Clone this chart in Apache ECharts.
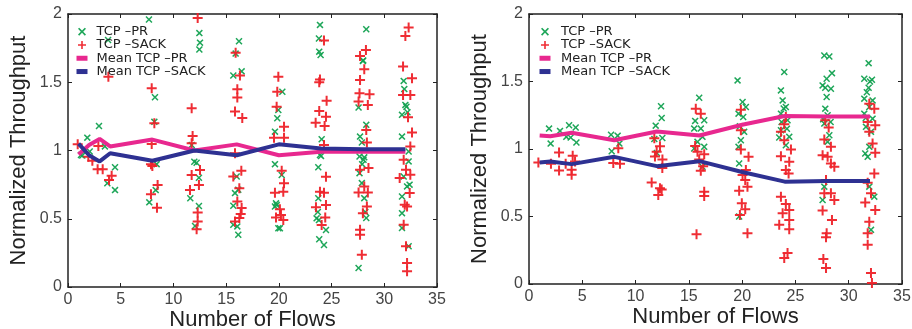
<!DOCTYPE html>
<html><head><meta charset="utf-8">
<script src="https://cdn.jsdelivr.net/npm/echarts@6/dist/echarts.min.js"></script>
<style>html,body{margin:0;padding:0;background:#fff}#c{width:912px;height:329px}</style>
</head><body><div id="c"></div>
<script>
// ---------- data ----------
const seriesNames = ['TCP –PR', 'TCP –SACK', 'Mean TCP –PR', 'Mean TCP –SACK'];
const xAxisTitle = 'Number of Flows';
const yAxisTitle = 'Normalized Throughput';

const leftMeanX = [1, 2, 3, 4, 8, 12, 16, 20, 24, 28, 32];
const leftMeanPR = [0.97, 1.04, 1.085, 1.03, 1.08, 1.0, 1.045, 0.965, 0.99, 0.99, 0.99];
const leftMeanSACK = [1.05, 0.965, 0.92, 0.98, 0.925, 1.0, 0.965, 1.045, 1.015, 1.01, 1.01];

const rightMeanX = [1, 2, 4, 8, 12, 16, 20, 24, 28, 32];
const rightMeanPR = [1.10, 1.095, 1.12, 1.065, 1.13, 1.10, 1.18, 1.245, 1.24, 1.24];
const rightMeanSACK = [0.90, 0.908, 0.888, 0.942, 0.873, 0.91, 0.83, 0.758, 0.763, 0.763];

const leftPR = [[1.36,0.963],[2.06,0.993],[1.83,1.094],[2.94,1.18],[3.5,1.03],[1.23,0.967],[3.73,0.76],[4.46,0.71],[4.46,0.877],[3.8,1.81],
[7.68,1.96],[8.25,1.39],[8.19,1.21],[8.41,0.90],[8.32,0.71],[7.71,0.62],
[12.46,1.86],[12.52,1.79],[12.46,1.74],[11.73,1.04],[11.98,0.918],[12.2,0.91],[12.42,0.80],[11.6,0.65],[12.42,0.593],[12.05,0.447],
[16.22,1.80],[15.9,1.71],[15.68,1.55],[16.47,1.58],[16.0,0.81],[16.15,0.712],[15.84,0.688],[15.68,0.595],[15.68,0.456],[16.06,0.444],[16.15,0.383],
[20.33,1.43],[19.95,1.297],[19.85,1.236],[19.63,1.138],[19.63,0.90],[20.27,0.82],[19.73,0.613],[19.63,0.59],[19.95,0.43],[20.1,0.43],[19.8,0.6],
[23.9,1.92],[23.8,1.82],[23.83,1.724],[23.96,1.70],[24.06,1.082],[23.9,0.967],[23.74,0.877],[23.74,0.65],[23.58,0.503],[23.8,0.49],[24.47,0.418],[23.83,0.35],[24.28,0.308],[24.0,0.96],[23.7,0.55],
[28.29,1.888],[27.97,1.656],[27.56,1.315],[28.29,1.188],[27.7,1.102],[27.87,1.059],[27.65,0.956],[28.03,0.932],[27.65,0.834],[27.87,0.761],[28.1,0.651],[28.29,0.505],[27.56,0.139],[28.1,0.95],[27.9,0.9],[28.2,0.55],[28.0,1.66],
[31.84,1.51],[32.0,1.334],[31.68,1.261],[31.68,1.102],[32.31,0.993],[32.31,0.92],[31.84,0.81],[32.16,0.737],[31.68,0.663],[31.68,0.541],[31.68,0.432],[32.31,0.298],[32.1,1.32],[31.9,1.45],[32.2,1.28],[32.4,0.75]];

const leftSACK = [[0.92,1.045],[1.93,0.955],[2.88,1.033],[2.81,0.862],[3.29,0.862],[3.89,0.784],[4.14,0.815],[3.83,1.54],[2.31,0.925],
[7.94,1.456],[8.19,1.20],[7.94,1.048],[7.87,0.90],[8.0,0.886],[8.5,0.747],[7.87,0.68],[8.44,0.58],
[12.3,1.97],[11.73,1.31],[11.82,1.106],[11.73,1.053],[12.52,0.857],[11.73,0.82],[12.42,0.747],[11.57,0.71],[12.3,0.545],[12.3,0.48],[12.2,0.423],
[15.9,1.717],[16.31,1.549],[16.06,1.449],[16.06,1.388],[15.84,1.285],[16.53,1.239],[15.84,0.98],[16.44,0.851],[15.68,0.81],[16.25,0.724],[16.06,0.627],[16.47,0.578],[16.38,0.534],[16.25,0.505],[15.84,0.48],
[19.95,1.54],[19.85,1.43],[19.79,1.32],[20.49,1.174],[19.54,1.094],[20.49,1.094],[20.27,0.852],[20.49,0.76],[20.42,0.698],[19.63,0.69],[20.1,0.569],[19.73,0.51],[20.42,0.49],[20.2,0.527],
[24.28,1.805],[23.9,1.52],[23.83,1.50],[24.53,1.365],[23.83,1.29],[24.47,1.248],[23.49,1.204],[24.34,1.18],[24.28,1.04],[24.47,0.808],[23.9,0.698],[24.28,0.69],[24.47,0.60],[23.52,0.584],[24.4,0.51],[24.06,0.454],
[28.26,1.737],[27.7,1.693],[28.1,1.595],[27.7,1.517],[28.6,1.412],[27.65,1.42],[27.56,1.359],[28.44,1.334],[28.29,1.151],[28.35,1.059],[27.7,0.859],[28.5,0.871],[28.1,0.737],[27.56,0.693],[28.44,0.693],[28.35,0.59],[27.97,0.541],[27.7,0.42],[27.7,0.383],[27.87,0.237],
[32.31,1.902],[32.0,1.839],[31.78,1.615],[32.63,1.529],[31.78,1.407],[32.47,1.407],[32.25,1.244],[32.63,1.132],[32.47,1.029],[31.84,0.932],[32.06,0.859],[32.47,0.822],[31.46,0.798],[32.41,0.688],[31.94,0.602],[32.16,0.59],[31.84,0.456],[32.06,0.298],[32.16,0.176],[32.16,0.115]];

const rightPR = [[1.88,1.151],[2.03,1.04],[2.91,1.134],[3.76,1.176],[3.91,1.085],[4.38,1.159],[4.45,1.048],[3.5,1.09],
[7.7,1.106],[8.32,1.099],[8.48,1.04],[7.76,0.983],
[12.39,1.317],[12.45,1.23],[11.89,1.173],[11.76,1.074],[12.51,1.082],[12.0,0.97],
[15.97,1.38],[15.59,1.208],[16.44,1.213],[15.5,1.151],[16.12,1.151],[16.28,1.09],[15.81,1.053],[15.5,1.004],[16.44,1.016],[16.28,0.868],
[19.57,1.508],[20.04,1.348],[20.35,1.311],[19.66,1.262],[20.1,1.237],[19.79,1.168],[20.19,1.127],[19.88,1.065],[19.66,1.016],[19.72,0.893],[19.72,0.50],
[23.95,1.57],[23.64,1.434],[23.8,1.36],[24.1,1.311],[23.64,1.262],[24.26,1.213],[23.64,1.139],[23.48,1.085],[24.42,1.09],[24.1,1.028],[23.7,1.2],[24.2,1.15],[23.9,1.3],
[27.71,1.693],[28.18,1.685],[28.43,1.562],[27.93,1.52],[27.55,1.471],[27.8,1.454],[28.33,1.446],[27.93,1.385],[27.8,1.299],[28.02,1.25],[27.71,1.188],[28.18,1.102],[28.02,1.053],[27.71,0.721],[27.55,0.622],[27.6,1.22],[28.3,1.2],
[31.87,1.636],[31.46,1.52],[32.18,1.513],[31.87,1.454],[31.46,1.373],[32.24,1.36],[31.93,1.311],[31.46,1.262],[32.24,1.225],[31.62,1.164],[32.09,1.127],[31.93,1.016],[31.55,0.967],[31.78,0.942],[31.93,0.721],[32.4,0.647],[32.09,0.401],[31.7,1.42],[32.0,1.5],[31.6,1.23]];

const rightSACK = [[0.88,0.90],[2.06,0.89],[2.82,0.975],[2.82,0.841],[3.44,0.89],[4.1,0.95],[4.0,0.846],[4.0,0.809],[4.32,0.908],
[7.91,0.896],[8.54,0.89],[8.38,1.006],
[11.76,1.08],[12.29,1.02],[11.98,0.98],[11.82,0.945],[12.51,0.859],[11.51,0.752],[12.29,0.71],[12.13,0.66],[12.45,0.7],[12.52,0.923],
[15.65,1.299],[16.12,1.262],[15.59,1.023],[15.81,0.979],[16.44,0.962],[15.97,0.922],[16.34,0.873],[16.12,0.839],[16.44,0.684],[16.44,0.652],[15.72,0.369],
[19.88,1.291],[19.88,1.139],[19.88,0.996],[20.6,0.942],[20.35,0.844],[20.04,0.807],[20.29,0.77],[20.5,0.721],[19.72,0.691],[19.97,0.598],[20.29,0.553],[20.5,0.376],[19.79,0.512],
[24.1,1.237],[23.95,1.183],[23.64,1.127],[23.95,1.065],[24.58,0.996],[23.64,0.947],[24.42,0.905],[24.1,0.844],[24.36,0.819],[23.64,0.647],[24.1,0.593],[24.42,0.549],[23.8,0.524],[24.42,0.475],[23.48,0.438],[24.42,0.406],[24.26,0.229],[23.95,0.192],
[27.8,1.213],[28.12,1.159],[27.71,1.07],[28.33,1.016],[27.55,0.954],[28.02,0.942],[28.33,0.893],[28.65,0.868],[27.87,0.77],[27.71,0.672],[28.33,0.672],[28.65,0.622],[27.55,0.544],[28.43,0.475],[27.93,0.376],[27.87,0.347],[27.62,0.185],[27.87,0.118],
[31.93,1.336],[32.4,1.299],[31.78,1.2],[32.49,1.176],[31.93,1.127],[32.24,1.041],[32.49,0.972],[32.4,0.819],[31.78,0.75],[32.09,0.672],[31.55,0.603],[32.49,0.549],[31.93,0.462],[31.78,0.376],[31.78,0.29],[32.09,0.081],[32.18,0.007]];

// ---------- styles ----------
const FONT = '"Liberation Sans", Arial, Helvetica, sans-serif';
const LFONT = '"DejaVu Sans", Verdana, sans-serif';
const GREEN = '#12a150', RED = '#ee2229', PINK = '#e8288f', BLUE = '#2e3192';
const X_PATH = 'path://M0,1.5L1.5,0L5,3.5L8.5,0L10,1.5L6.5,5L10,8.5L8.5,10L5,6.5L1.5,10L0,8.5L3.5,5Z';
const P_PATH = 'path://M4,0h2v4h4v2h-4v4h-2v-4h-4v-2h4z';
const R_PATH = 'path://M0,0h22v10h-22z';

const grids = [
  {left: 68, top: 14, width: 369, height: 273, outerBoundsMode: 'none', containLabel: false},
  {left: 529, top: 14, width: 373, height: 270, outerBoundsMode: 'none', containLabel: false}
];

function xAxes(gi) {
  const base = {gridIndex: gi, type: 'value', min: 0, max: 35, interval: 5, splitLine: {show: false},
    axisLine: {onZero: false, lineStyle: {color: '#222', width: 1.5}},
    axisTick: {inside: true, length: 4, lineStyle: {color: '#222', width: 1}}};
  return [
    Object.assign({}, base, {position: 'bottom',
      axisLabel: {fontSize: 16, color: '#444', margin: 5, fontFamily: FONT},
      name: xAxisTitle, nameLocation: 'middle', nameGap: 22, nameMoveOverlap: false,
      nameTextStyle: {fontSize: 22, color: '#222', fontFamily: FONT}}),
    Object.assign({}, base, {position: 'top', axisLabel: {show: false}})
  ];
}
function yAxes(gi) {
  const base = {gridIndex: gi, type: 'value', min: 0, max: 2, interval: 0.5, splitLine: {show: false},
    axisLine: {onZero: false, lineStyle: {color: '#222', width: 1.5}},
    axisTick: {inside: true, length: 4, lineStyle: {color: '#222', width: 1}}};
  return [
    Object.assign({}, base, {position: 'left',
      axisLabel: {fontSize: 16, color: '#444', margin: 6, fontFamily: FONT},
      name: yAxisTitle, nameLocation: 'middle', nameGap: 38,
      nameTextStyle: {fontSize: 22, color: '#222', fontFamily: FONT}}),
    Object.assign({}, base, {position: 'right', axisLabel: {show: false}})
  ];
}

function panelSeries(gi, pr, sack, mx, mpr, msack) {
  const xi = gi * 2, yi = gi * 2;
  return [
    {name: seriesNames[0], type: 'scatter', xAxisIndex: xi, yAxisIndex: yi, data: pr,
     symbol: X_PATH, symbolSize: 7, itemStyle: {color: GREEN, opacity: 0.95}, z: 2},
    {name: seriesNames[1], type: 'scatter', xAxisIndex: xi, yAxisIndex: yi, data: sack,
     symbol: P_PATH, symbolSize: 10, itemStyle: {color: RED, opacity: 0.95}, z: 3},
    {name: seriesNames[2], type: 'line', xAxisIndex: xi, yAxisIndex: yi,
     data: mx.map((x, i) => [x, mpr[i]]), symbol: 'none', itemStyle: {color: PINK},
     lineStyle: {color: PINK, width: 4}, z: 4},
    {name: seriesNames[3], type: 'line', xAxisIndex: xi, yAxisIndex: yi,
     data: mx.map((x, i) => [x, msack[i]]), symbol: 'none', itemStyle: {color: BLUE},
     lineStyle: {color: BLUE, width: 4}, z: 5}
  ];
}

function legend(left, padLeft) {
  return {left: left, top: 25, orient: 'vertical', itemWidth: 11, itemHeight: 8, itemGap: 0, padding: 0,
    selectedMode: false,
    textStyle: {fontSize: 13, lineHeight: 13.3, color: '#222', fontFamily: LFONT, padding: [0, 0, 0, padLeft]},
    data: [
      {name: seriesNames[0], icon: X_PATH},
      {name: seriesNames[1], icon: P_PATH},
      {name: seriesNames[2], icon: R_PATH},
      {name: seriesNames[3], icon: R_PATH}
    ]};
}

const chart = echarts.init(document.getElementById('c'), null, {renderer: 'canvas'});
chart.setOption({
  backgroundColor: '#fff',
  animation: false,
  grid: grids,
  xAxis: xAxes(0).concat(xAxes(1)),
  yAxis: yAxes(0).concat(yAxes(1)),
  legend: [legend(76.5, 4), legend(539.5, 5.5)],
  series: panelSeries(0, leftPR, leftSACK, leftMeanX, leftMeanPR, leftMeanSACK)
    .concat(panelSeries(1, rightPR, rightSACK, rightMeanX, rightMeanPR, rightMeanSACK))
});
</script></body></html>
